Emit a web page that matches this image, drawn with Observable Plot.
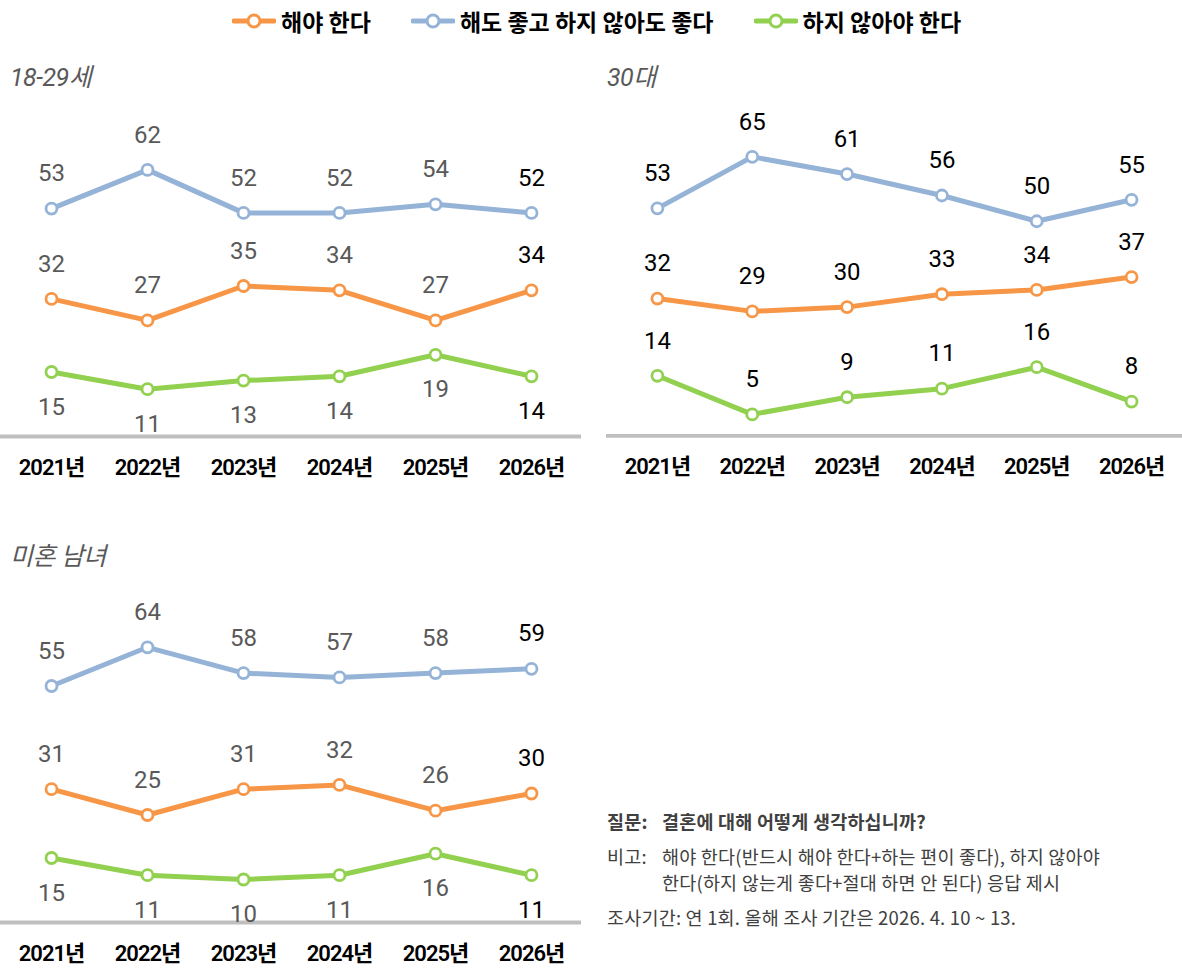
<!DOCTYPE html>
<html><head><meta charset="utf-8">
<script src="https://cdn.jsdelivr.net/npm/d3@7"></script>
<script src="https://cdn.jsdelivr.net/npm/@observablehq/plot@0.6"></script>
<style>
body{margin:0;background:#fff;}
#root{position:relative;width:1182px;height:971px;overflow:hidden;font-family:Roboto,"Noto Sans CJK KR",sans-serif;}
.panel{position:absolute;}
.panel svg{overflow:visible;}
.title{position:absolute;font-style:italic;font-size:25px;color:#595959;font-family:Roboto,"Noto Sans CJK KR",sans-serif;letter-spacing:-0.5px;line-height:28px;z-index:2;}
#legend{position:absolute;top:4px;left:232px;display:flex;align-items:center;height:34px;font-family:"Noto Sans CJK KR",sans-serif;font-weight:bold;font-size:23px;color:#000;letter-spacing:0px;}
#legend .item{display:flex;align-items:center;margin-right:40px;}
#legend svg{margin-right:5px;}
#notes{position:absolute;left:607px;top:808px;font-family:"Noto Sans CJK KR",sans-serif;font-size:18.5px;color:#404040;letter-spacing:0.2px;}
#notes .row{display:flex;line-height:26px;margin-bottom:9px;}
#notes .lab{width:55px;flex:none;}
#notes .b{font-weight:bold;}
text.vlab{letter-spacing:-1.5px;}
g.xax text{letter-spacing:-1px;}
</style>
</head><body>
<div id="root">
  <div id="legend"></div>
  <div class="title" style="left:10px;top:64px;">18-29세</div>
  <div class="title" style="left:607px;top:64px;">30대</div>
  <div class="title" style="left:10px;top:543px;">미혼 남녀</div>
  <div class="panel" id="p1" style="left:0px;top:80px;"></div>
  <div class="panel" id="p2" style="left:606px;top:80px;"></div>
  <div class="panel" id="p3" style="left:0px;top:566px;"></div>
  <div id="notes">
    <div class="row b"><div class="lab">질문:</div><div>결혼에 대해 어떻게 생각하십니까?</div></div>
    <div class="row"><div class="lab">비고:</div><div>해야 한다(반드시 해야 한다+하는 편이 좋다), 하지 않아야<br>한다(하지 않는게 좋다+절대 하면 안 된다) 응답 제시</div></div>
    <div class="row"><div>조사기간: 연 1회. 올해 조사 기간은 2026. 4. 10 ~ 13.</div></div>
  </div>
</div>
<script>
const years = [2021, 2022, 2023, 2024, 2025, 2026];
const seriesNames = ["해야 한다", "해도 좋고 하지 않아도 좋다", "하지 않아야 한다"];
const seriesColors = ["#F79646", "#95B3D7", "#92D050"];

// 18-29세
const young_should = [32, 27, 35, 34, 27, 34];
const young_either = [53, 62, 52, 52, 54, 52];
const young_shouldNot = [15, 11, 13, 14, 19, 14];
// 30대
const thirties_should = [32, 29, 30, 33, 34, 37];
const thirties_either = [53, 65, 61, 56, 50, 55];
const thirties_shouldNot = [14, 5, 9, 11, 16, 8];
// 미혼 남녀
const single_should = [31, 25, 31, 32, 26, 30];
const single_either = [55, 64, 58, 57, 58, 59];
const single_shouldNot = [15, 11, 10, 11, 16, 11];

function rowsOf(should, either, shouldNot) {
  const out = [];
  [should, either, shouldNot].forEach((arr, i) => {
    arr.forEach((v, j) => out.push({year: years[j], series: seriesNames[i], value: v}));
  });
  return out;
}

// legend
const legend = document.getElementById("legend");
seriesNames.forEach((name, i) => {
  const item = document.createElement("div");
  item.className = "item";
  item.innerHTML = `<svg width="44" height="20"><line x1="2" y1="10" x2="42" y2="10" stroke="${seriesColors[i]}" stroke-width="5" stroke-linecap="round"/><circle cx="22" cy="10" r="6" fill="#fff" stroke="${seriesColors[i]}" stroke-width="3"/></svg><span>${name}</span>`;
  legend.appendChild(item);
});

function panel(rows, width, allBlack, greenAbove) {
  const H = 400, MB = 44, y0 = H - MB;
  const isAbove = d => d.series !== seriesNames[2] || greenAbove;
  const lblFill = d => (allBlack || d.year === 2026) ? "#000" : "#595959";
  return Plot.plot({
    width, height: H,
    marginTop: 0, marginBottom: MB, marginLeft: 0, marginRight: 0,
    x: {type: "point", domain: years, padding: 0.52, label: null},
    y: {domain: [0, 70], range: [y0, y0 - 301], axis: null},
    color: {domain: seriesNames, range: seriesColors},
    style: {fontFamily: 'Roboto, "Noto Sans CJK KR", sans-serif', color: "#000", background: "transparent"},
    marks: [
      Plot.ruleY([0], {stroke: "#bfbfbf", strokeWidth: 4}),
      Plot.axisX({tickSize: 0, tickPadding: 23, tickFormat: d => `${d}년`, label: null, fontSize: 22, fontWeight: 600, fill: "#000", className: "xax"}),
      Plot.line(rows, {x: "year", y: "value", z: "series", stroke: "series", strokeWidth: 5}),
      Plot.dot(rows, {x: "year", y: "value", stroke: "series", fill: "white", r: 5.5, strokeWidth: 2.8}),
      Plot.text(rows.filter(isAbove), {x: "year", y: "value", text: d => String(d.value), dy: -35, fontSize: 24, fill: lblFill, className: "vlab"}),
      Plot.text(rows.filter(d => !isAbove(d)), {x: "year", y: "value", text: d => String(d.value), dy: 35, fontSize: 24, fill: lblFill, className: "vlab"})
    ]
  });
}

document.getElementById("p1").appendChild(panel(rowsOf(young_should, young_either, young_shouldNot), 581, false, false));
document.getElementById("p2").appendChild(panel(rowsOf(thirties_should, thirties_either, thirties_shouldNot), 577, true, true));
document.getElementById("p3").appendChild(panel(rowsOf(single_should, single_either, single_shouldNot), 581, false, false));
</script>
</body></html>
